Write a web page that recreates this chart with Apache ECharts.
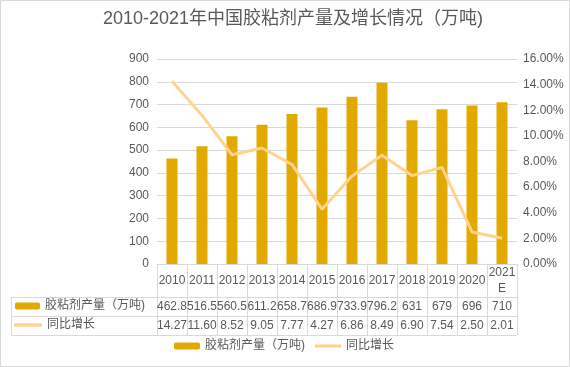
<!DOCTYPE html>
<html><head><meta charset="utf-8">
<script src="https://cdn.jsdelivr.net/npm/echarts@6/dist/echarts.min.js"></script>
<style>html,body{margin:0;padding:0;background:#fff}#c{width:570px;height:367px}</style>
</head><body><div id="c"></div>
<script>
const categories = ['2010','2011','2012','2013','2014','2015','2016','2017','2018','2019','2020','2021E'];
const output = [462.8,516.5,560.5,611.2,658.7,686.9,733.9,796.2,631,679,696,710];
const outputText = ['462.8','516.5','560.5','611.2','658.7','686.9','733.9','796.2','631','679','696','710'];
const growth = [14.27,11.60,8.52,9.05,7.77,4.27,6.86,8.49,6.90,7.54,2.50,2.01];
const growthText = ['14.27','11.60','8.52','9.05','7.77','4.27','6.86','8.49','6.90','7.54','2.50','2.01'];
const leftTicks = {min:0,max:900,interval:100};
const rightTicks = {min:0,max:16,interval:2};
const nameBar = '胶粘剂产量（万吨)';
const nameLine = '同比增长';

const W=570,H=367, gL=157, gR=517, gT=59, gB=264;
const rowY=[297,316,335], tableLeft=11;
const FONT = '"Liberation Sans", Arial, "Noto Sans CJK SC", sans-serif';
const TC = '#595959', LC = '#d9d9d9';
const barColor = '#E2AA00', lineColor = '#FFD38C';
const lineIcon = 'path://M0,0H100V12H0Z';

const chart = echarts.init(document.getElementById('c'), null, {renderer:'canvas'});
const lines = [];
rowY.forEach(y=>lines.push({type:'line',shape:{x1:tableLeft,y1:y+0.5,x2:gR,y2:y+0.5},style:{stroke:LC,lineWidth:1},silent:true}));
lines.push({type:'line',shape:{x1:tableLeft+0.5,y1:rowY[0],x2:tableLeft+0.5,y2:rowY[2]},style:{stroke:LC,lineWidth:1},silent:true});
lines.push({type:'rect',shape:{x:0.5,y:0.5,width:W-1,height:H-1},style:{fill:'none',stroke:LC,lineWidth:1},silent:true});

chart.setOption({
  animation:false,
  textStyle:{fontFamily:FONT},
  title:{text:'2010-2021年中国胶粘剂产量及增长情况（万吨)',left:103,top:10,padding:0,
    textStyle:{fontSize:18,fontWeight:'normal',color:TC,fontFamily:FONT}},
  grid:{left:gL,right:W-gR,top:gT,bottom:H-gB,containLabel:false},
  legend:[
    {data:[nameBar,{name:nameLine,icon:lineIcon}],orient:'horizontal',left:174,top:340,padding:0,itemGap:10,itemWidth:26,itemHeight:7,
      textStyle:{fontSize:12,color:TC,fontFamily:FONT}},
    {data:[nameBar],left:15,top:rowY[0]+3,padding:0,itemWidth:25,itemHeight:7,
      textStyle:{fontSize:12,color:TC,fontFamily:FONT}},
    {data:[{name:nameLine,icon:lineIcon}],left:14,top:rowY[1]+3,padding:0,itemWidth:28,itemHeight:7,
      textStyle:{fontSize:12,color:TC,fontFamily:FONT}}
  ],
  xAxis:{type:'category',data:categories,boundaryGap:true,
    axisLine:{show:true,lineStyle:{color:LC,width:1}},
    axisTick:{show:true,length:rowY[2]-gB,interval:0,lineStyle:{color:LC,width:1}},
    axisLabel:{interval:0,margin:0,color:TC,fontSize:12,
      formatter:function(v,i){
        let head = v.length>4 ? '{ya|'+v.slice(0,4)+'}\n{yb|'+v.slice(4)+'}' : '{y|'+v+'}';
        return head+'\n{v|'+outputText[i]+'}\n{v|'+growthText[i]+'}';
      },
      rich:{y:{lineHeight:33,fontSize:12,color:TC,fontFamily:FONT},
            ya:{lineHeight:17,fontSize:12,color:TC,fontFamily:FONT},
            yb:{lineHeight:16,fontSize:12,color:TC,fontFamily:FONT},
            v:{lineHeight:19,fontSize:12,color:TC,fontFamily:FONT}}}
  },
  yAxis:[
    {type:'value',min:leftTicks.min,max:leftTicks.max,interval:leftTicks.interval,
      axisLine:{show:false},axisTick:{show:false},
      axisLabel:{color:TC,fontSize:12,margin:8,fontFamily:FONT},
      splitLine:{show:true,lineStyle:{color:LC,width:1}}},
    {type:'value',min:rightTicks.min,max:rightTicks.max,interval:rightTicks.interval,
      axisLine:{show:false},axisTick:{show:false},splitLine:{show:false},
      axisLabel:{color:TC,fontSize:12,margin:6,fontFamily:FONT,formatter:v=>v.toFixed(2)+'%'}}
  ],
  series:[
    {name:nameBar,type:'bar',data:output,barWidth:11,itemStyle:{color:barColor},yAxisIndex:0},
    {name:nameLine,type:'line',data:growth,yAxisIndex:1,symbol:'none',
      lineStyle:{color:lineColor,width:3},itemStyle:{color:lineColor}}
  ],
  graphic:lines
});
</script></body></html>
